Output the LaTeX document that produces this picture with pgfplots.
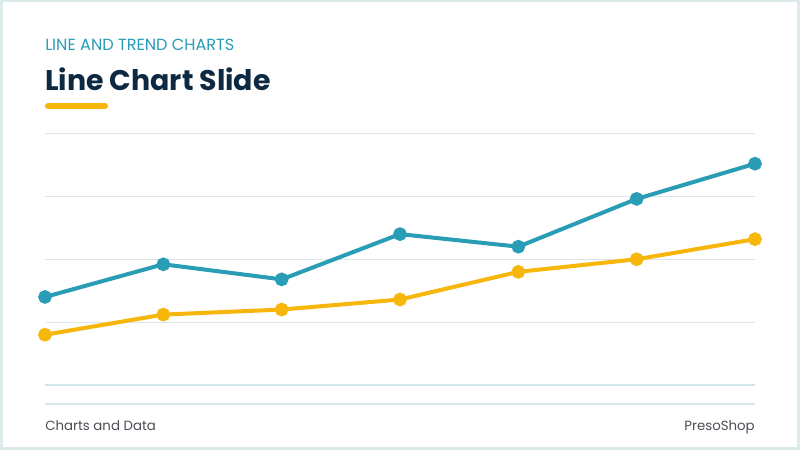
\documentclass[border=0pt]{standalone}
\usepackage{fontspec}
\setmainfont{Poppins}
\usepackage{pgfplots}
\pgfplotsset{compat=1.18}

\definecolor{frame}{HTML}{DCEAEC}
\definecolor{teal}{HTML}{2A9DB6}
\definecolor{gold}{HTML}{F6B60A}
\definecolor{navy}{HTML}{0E2A42}
\definecolor{gridc}{HTML}{DCE5E9}
\definecolor{basec}{HTML}{D3E6E8}
\definecolor{foot}{HTML}{4A4F56}

\begin{document}
\begin{tikzpicture}[x=0.75pt,y=0.75pt]
  % slide background and frame
  \useasboundingbox (0,0) rectangle (800,450);
  \fill[frame] (0,0) rectangle (800,450);
  \fill[white] (3,3) rectangle (797,448);

  % headings
  \node[anchor=base west, inner sep=0pt, text=teal, font=\fontsize{12.1pt}{14pt}\selectfont]
    at (45,399) {LINE AND TREND CHARTS};
  \node[anchor=base west, inner sep=0pt, text=navy, font=\fontsize{21.3pt}{24pt}\selectfont\bfseries]
    at (45,359) {Line Chart Slide};
  \draw[gold, line width=4.5pt, line cap=round] (48,344) -- (105,344);

  % separator and footer
  \draw[gridc, line width=1pt] (45,46) -- (755,46);
  \node[anchor=base west, inner sep=0pt, text=foot, font=\fontsize{10pt}{12pt}\selectfont]
    at (45,20) {Charts and Data};
  \node[anchor=base east, inner sep=0pt, text=foot, font=\fontsize{10pt}{12pt}\selectfont]
    at (755,20) {PresoShop};

  \begin{axis}[
      at={(33.75pt,48.75pt)}, anchor=south west,
      scale only axis,
      width=532.5pt, height=188.6pt,
      xmin=0, xmax=6,
      ymin=0, ymax=100,
      xtick=\empty,
      ytick={25,50,75,100},
      yticklabels={},
      extra y ticks={0},
      extra y tick labels={},
      extra y tick style={grid style={basec, line width=1.3pt}},
      ymajorgrids=true,
      grid style={gridc, line width=0.8pt},
      major tick length=0pt,
      axis line style={draw=none},
      clip=false,
    ]
    \addplot[teal, line width=3pt, mark=*, mark size=3.6pt, mark options={solid}]
      coordinates {(0,35)(1,48)(2,42)(3,60)(4,55)(5,74)(6,88)};
    \addplot[gold, line width=3pt, mark=*, mark size=3.6pt, mark options={solid}]
      coordinates {(0,20)(1,28)(2,30)(3,34)(4,45)(5,50)(6,58)};
  \end{axis}
\end{tikzpicture}
\end{document}
